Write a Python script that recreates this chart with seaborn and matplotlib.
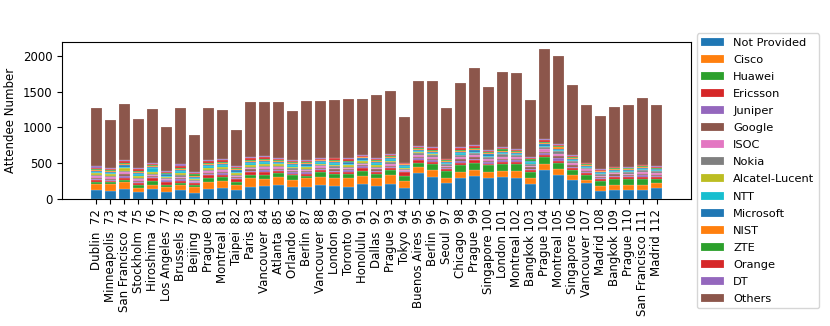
import numpy as np
import matplotlib
matplotlib.use("Agg")
import matplotlib.pyplot as plt
import seaborn as sns

# IETF meetings 72..112
cities = ["Dublin", "Minneapolis", "San Francisco", "Stockholm", "Hiroshima",
          "Los Angeles", "Brussels", "Beijing", "Prague", "Montreal", "Taipei",
          "Paris", "Vancouver", "Atlanta", "Orlando", "Berlin", "Vancouver",
          "London", "Toronto", "Honolulu", "Dallas", "Prague", "Tokyo",
          "Buenos Aires", "Berlin", "Seoul", "Chicago", "Prague", "Singapore",
          "London", "Montreal", "Bangkok", "Prague", "Montreal", "Singapore",
          "Vancouver", "Madrid", "Bangkok", "Prague", "San Francisco", "Madrid"]
meetings = list(range(72, 113))

totals = [1270, 1110, 1330, 1120, 1250, 1000, 1275, 900, 1275, 1245, 970,
          1350, 1355, 1357, 1222, 1375, 1365, 1385, 1398, 1398, 1449, 1514,
          1143, 1648, 1648, 1273, 1625, 1824, 1565, 1778, 1764, 1379, 2088,
          2000, 1597, 1315, 1157, 1278, 1319, 1412, 1315]

not_provided = [120, 111, 143, 93, 139, 97, 120, 83, 143, 148, 125, 167, 181,
                194, 167, 167, 190, 181, 171, 204, 181, 208, 157, 366, 310, 222,
                292, 319, 287, 310, 296, 208, 403, 333, 264, 222, 116, 130, 130,
                125, 148]
cisco = [93, 93, 93, 55, 60, 74, 74, 79, 93, 107, 69, 120, 92, 107, 92, 129,
         120, 111, 116, 115, 106, 125, 98, 74, 88, 65, 78, 84, 88, 84, 98, 84,
         92, 88, 69, 42, 65, 69, 69, 69, 74]
huawei = [28, 27, 28, 46, 51, 23, 33, 32, 51, 51, 47, 46, 60, 55, 70, 28, 65,
          51, 56, 74, 56, 65, 64, 69, 88, 102, 107, 102, 93, 92, 92, 78, 93, 84,
          70, 69, 74, 74, 74, 88, 56]
ericsson = [23, 19, 32, 24, 37, 47, 23, 24, 42, 32, 32, 42, 47, 34, 23, 28, 28,
            32, 37, 42, 27, 28, 51, 37, 37, 28, 28, 35, 27, 33, 33, 33, 23, 32,
            27, 23, 23, 37, 32, 28, 27]
juniper = [22, 20, 30, 22, 20, 18, 25, 15, 25, 25, 20, 22, 25, 20, 22, 20, 20,
           22, 20, 20, 24, 22, 14, 22, 20, 15, 28, 22, 20, 22, 20, 18, 25, 30,
           22, 18, 15, 15, 15, 20, 16]
google = [12, 12, 18, 12, 12, 10, 14, 8, 14, 15, 12, 15, 16, 14, 16, 15, 15,
          18, 16, 18, 18, 18, 12, 18, 22, 14, 22, 22, 20, 24, 22, 20, 26, 28,
          22, 20, 18, 18, 18, 22, 20]
isoc = [20, 22, 28, 22, 20, 15, 24, 15, 22, 22, 18, 22, 22, 20, 20, 20, 18, 22,
        20, 18, 22, 24, 14, 30, 24, 18, 26, 25, 22, 26, 22, 20, 30, 35, 22, 18,
        15, 15, 16, 20, 18]
nokia = [16, 15, 20, 20, 16, 12, 18, 12, 18, 18, 14, 16, 18, 15, 16, 16, 14,
         18, 15, 15, 18, 20, 14, 28, 32, 25, 34, 32, 30, 32, 30, 30, 35, 36, 30,
         26, 24, 24, 25, 28, 26]
alcatel = [26, 24, 34, 30, 24, 18, 32, 18, 30, 30, 25, 30, 28, 25, 26, 24, 22,
           26, 24, 22, 26, 26, 12, 12, 6, 3, 3, 2, 2, 2, 1, 1, 1, 1, 1, 0, 0, 0,
           0, 0, 0]
ntt = [18, 18, 24, 20, 50, 14, 22, 14, 20, 20, 20, 20, 22, 20, 20, 18, 18, 20,
       18, 22, 20, 18, 28, 16, 18, 16, 18, 20, 18, 18, 16, 18, 18, 18, 20, 14,
       12, 14, 13, 16, 14]
microsoft = [18, 18, 24, 20, 18, 16, 22, 14, 20, 22, 18, 20, 22, 18, 20, 18,
             16, 20, 18, 18, 20, 20, 12, 16, 18, 14, 20, 20, 18, 20, 18, 16, 20,
             20, 18, 14, 14, 13, 14, 16, 14]
nist = [12, 12, 16, 14, 12, 10, 14, 10, 14, 14, 12, 14, 14, 12, 14, 13, 12, 14,
        12, 12, 14, 14, 8, 10, 12, 8, 14, 14, 12, 14, 12, 10, 16, 16, 12, 10, 8,
        8, 8, 10, 8]
zte = [14, 14, 18, 14, 12, 12, 18, 22, 16, 16, 16, 16, 16, 14, 15, 14, 13, 15,
       14, 12, 15, 15, 10, 12, 14, 12, 18, 18, 16, 16, 14, 16, 16, 16, 14, 12,
       12, 12, 12, 14, 12]
orange = [16, 16, 22, 22, 16, 12, 24, 12, 20, 18, 16, 20, 18, 16, 16, 18, 14,
          16, 16, 14, 16, 16, 8, 14, 18, 12, 18, 18, 16, 16, 16, 16, 20, 20, 16,
          12, 12, 12, 12, 14, 14]
dt = [16, 14, 21, 21, 13, 11, 19, 12, 18, 18, 19, 18, 16, 15, 14, 14, 14, 13,
      16, 14, 16, 15, 7, 12, 15, 11, 16, 17, 16, 13, 14, 15, 15, 16, 13, 9, 9,
      8, 11, 11, 11]

companies = ["Not Provided", "Cisco", "Huawei", "Ericsson", "Juniper", "Google",
             "ISOC", "Nokia", "Alcatel-Lucent", "NTT", "Microsoft", "NIST",
             "ZTE", "Orange", "DT"]
layers = [not_provided, cisco, huawei, ericsson, juniper, google, isoc, nokia,
          alcatel, ntt, microsoft, nist, zte, orange, dt]

labels = [f"{c} {m:3d}" for c, m in zip(cities, meetings)]
# whatever is left of the total goes to "Others"
others = np.array(totals) - np.sum(layers, axis=0)
all_layers = layers + [list(others)]
all_names = companies + ["Others"]

plt.rcParams["font.size"] = 8.5
palette = sns.color_palette("tab10")

fig = plt.figure(figsize=(8.3, 3.26), dpi=100)
ax = fig.add_axes([0.0747, 0.3896, 0.7578, 0.4816])

bottom = np.zeros(len(labels))
for i, (name, vals) in enumerate(zip(all_names, all_layers)):
    sns.barplot(x=labels, y=vals, bottom=bottom, color=palette[i % 10],
                saturation=1, errorbar=None, width=0.8, label=name,
                edgecolor=(1, 1, 1, 0.45), linewidth=0.3, ax=ax, legend=False)
    bottom = bottom + np.array(vals)

n = len(labels)
pad = 0.05 * (n - 0.2)
ax.set_xlim(-0.4 - pad, n - 0.6 + pad)
ax.set_ylim(0, bottom.max() * 1.05)
ax.set_ylabel("Attendee Number")
ax.set_xlabel("")
ax.tick_params(axis="x", rotation=90)

handles, names = ax.get_legend_handles_labels()
fig.legend(handles, names, loc="upper left", bbox_to_anchor=(0.8325, 0.915),
           fontsize=8.2, labelspacing=0.62)

fig.savefig("out.png", dpi=100)
